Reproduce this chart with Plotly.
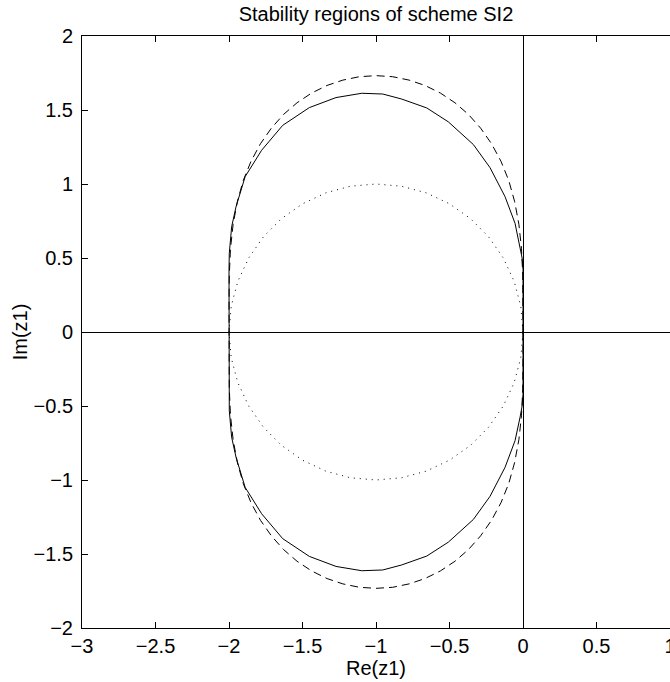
import plotly.graph_objects as go

# ---- data ----
# solid curve: stability region boundary of scheme SI2
si2_x = [0, 0, 0, -0.006, -0.02, -0.054, -0.122, -0.224, -0.338, -0.508, -0.655, -0.825,
         -0.954, -1.097, -1.272, -1.454, -1.635, -1.778, -1.89, -1.952, -1.982, -1.998,
         -2, -2, -2,
         -2, -2, -1.998, -1.982, -1.952, -1.89, -1.778, -1.635, -1.454, -1.272, -1.097,
         -0.954, -0.825, -0.655, -0.508, -0.338, -0.224, -0.122, -0.054, -0.02, -0.006,
         0, 0, 0]
si2_y = [0, 0.21, 0.42, 0.5, 0.576, 0.734, 0.914, 1.11, 1.267, 1.42, 1.514, 1.574,
         1.608, 1.613, 1.584, 1.516, 1.396, 1.228, 1.05, 0.847, 0.711, 0.532,
         0.42, 0.21, 0,
         -0.21, -0.42, -0.532, -0.711, -0.847, -1.05, -1.228, -1.396, -1.516, -1.584, -1.613,
         -1.608, -1.574, -1.514, -1.42, -1.267, -1.11, -0.914, -0.734, -0.576, -0.5,
         -0.42, -0.21, 0]

# dashed curve: second reference region
dash_x = [0, 0, -0.002, -0.010, -0.028, -0.057, -0.097, -0.150, -0.214, -0.288, -0.371,
          -0.463, -0.561, -0.667, -0.775, -0.887, -1.0, -1.113, -1.225, -1.333, -1.439,
          -1.537, -1.629, -1.712, -1.786, -1.850, -1.903, -1.943, -1.972, -1.990, -1.998,
          -2.0, -2.0,
          -2.0, -1.998, -1.990, -1.972, -1.943, -1.903, -1.850, -1.786, -1.712, -1.629,
          -1.537, -1.439, -1.333, -1.225, -1.113, -1.0, -0.887, -0.775, -0.667, -0.561,
          -0.463, -0.371, -0.288, -0.214, -0.150, -0.097, -0.057, -0.028, -0.010, -0.002,
          0, 0]
dash_y = [0, 0.195, 0.384, 0.562, 0.728, 0.882, 1.024, 1.154, 1.272, 1.377, 1.470,
          1.549, 1.614, 1.666, 1.702, 1.725, 1.732, 1.725, 1.702, 1.666, 1.614,
          1.549, 1.470, 1.377, 1.272, 1.154, 1.024, 0.882, 0.728, 0.562, 0.384,
          0.195, 0,
          -0.195, -0.384, -0.562, -0.728, -0.882, -1.024, -1.154, -1.272, -1.377, -1.470,
          -1.549, -1.614, -1.666, -1.702, -1.725, -1.732, -1.725, -1.702, -1.666, -1.614,
          -1.549, -1.470, -1.377, -1.272, -1.154, -1.024, -0.882, -0.728, -0.562, -0.384,
          -0.195, 0]

# dotted curve: unit circle centred at -1
dot_x = [0, -0.015, -0.060, -0.134, -0.234, -0.357, -0.5, -0.658, -0.826, -1.0,
         -1.174, -1.342, -1.5, -1.643, -1.766, -1.866, -1.940, -1.985, -2.0,
         -1.985, -1.940, -1.866, -1.766, -1.643, -1.5, -1.342, -1.174, -1.0,
         -0.826, -0.658, -0.5, -0.357, -0.234, -0.134, -0.060, -0.015, 0]
dot_y = [0, 0.174, 0.342, 0.5, 0.643, 0.766, 0.866, 0.940, 0.985, 1.0,
         0.985, 0.940, 0.866, 0.766, 0.643, 0.5, 0.342, 0.174, 0,
         -0.174, -0.342, -0.5, -0.643, -0.766, -0.866, -0.940, -0.985, -1.0,
         -0.985, -0.940, -0.866, -0.766, -0.643, -0.5, -0.342, -0.174, 0]

x_tickvals = [-3, -2.5, -2, -1.5, -1, -0.5, 0, 0.5, 1]
x_ticktext = ["\u22123", "\u22122.5", "\u22122", "\u22121.5", "\u22121", "\u22120.5", "0", "0.5", "1"]
y_tickvals = [-2, -1.5, -1, -0.5, 0, 0.5, 1, 1.5, 2]
y_ticktext = ["\u22122", "\u22121.5", "\u22121", "\u22120.5", "0", "0.5", "1", "1.5", "2"]

FONT = "Liberation Sans, Arial, Helvetica, sans-serif"
FS = 20

fig = go.Figure()
fig.add_trace(go.Scatter(x=dot_x, y=dot_y, mode="lines",
                         line=dict(color="black", width=1, dash="1px,5px"), hoverinfo="skip"))
fig.add_trace(go.Scatter(x=dash_x, y=dash_y, mode="lines",
                         line=dict(color="black", width=1, dash="8px,5px"), hoverinfo="skip"))
fig.add_trace(go.Scatter(x=si2_x, y=si2_y, mode="lines",
                         line=dict(color="black", width=1), hoverinfo="skip"))

axis_common = dict(
    showgrid=False, zeroline=True, zerolinecolor="black", zerolinewidth=1,
    showline=True, linecolor="black", linewidth=1,
    ticks="inside", ticklen=6, tickcolor="black", tickwidth=1,
    tickfont=dict(family=FONT, size=FS, color="black"),
    ticklabeloverflow="allow", automargin=False,
)

fig.update_layout(
    width=670, height=682,
    margin=dict(l=82, r=0, t=36, b=54, autoexpand=False),
    paper_bgcolor="white", plot_bgcolor="white",
    showlegend=False,
    title=dict(text="Stability regions of scheme SI2", x=0.5, xref="paper", xanchor="center",
               y=1 - 14 / 682, yref="container", yanchor="middle",
               font=dict(family=FONT, size=FS, color="black")),
    xaxis=dict(range=[-3, 1], tickvals=x_tickvals, ticktext=x_ticktext, mirror="ticks",
               title=dict(text="Re(z1)", standoff=4, font=dict(family=FONT, size=FS, color="black")),
               **axis_common),
    yaxis=dict(range=[-2, 2], tickvals=y_tickvals, ticktext=y_ticktext, mirror=False,
               ticklabelstandoff=4,
               title=dict(text="Im(z1)", standoff=0, font=dict(family=FONT, size=FS, color="black")),
               **axis_common),
)

fig.write_html("out.html")
